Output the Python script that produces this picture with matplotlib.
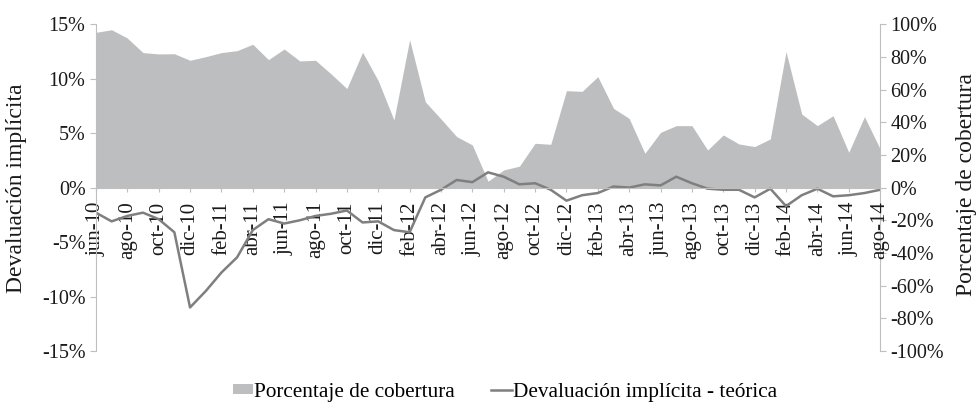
import matplotlib.pyplot as plt
import matplotlib.ticker as mticker
from matplotlib.patches import Patch
from matplotlib.lines import Line2D

plt.rcParams['font.family'] = ['Liberation Serif', 'DejaVu Serif']

# Months jun-10 .. ago-14
meses = ['ene', 'feb', 'mar', 'abr', 'may', 'jun', 'jul', 'ago', 'sep', 'oct', 'nov', 'dic']
labels = []
for year in range(10, 15):
    for m in range(12):
        if (year == 10 and m < 5) or (year == 14 and m > 7):
            continue
        labels.append(f"{meses[m]}-{year}")

# Porcentaje de cobertura (right axis, %)
cobertura = [95.0, 96.6, 91.5, 82.6, 81.8, 81.9, 77.9, 80.1, 82.6, 83.8,
             87.7, 78.3, 84.8, 77.5, 77.9, 69.5, 60.6, 82.8, 65.4, 41.4,
             90.5, 52.5, 42.0, 31.2, 26.1, 3.9, 10.8, 13.1, 27.1, 26.5,
             59.3, 58.9, 67.9, 48.5, 42.3, 21.0, 33.8, 37.9, 37.9, 23.0,
             32.2, 26.7, 25.1, 29.8, 83.2, 45.0, 37.9, 44.0, 21.6, 43.4, 23.7]

# Devaluación implícita - teórica (left axis, %)
devaluacion = [-2.3, -3.1, -2.6, -2.3, -2.9, -4.1, -11.0, -9.5, -7.8, -6.4,
               -3.9, -2.9, -3.3, -3.0, -2.6, -2.4, -2.1, -3.2, -3.1, -3.9,
               -4.1, -0.9, -0.2, 0.7, 0.5, 1.4, 1.0, 0.3, 0.4, -0.2,
               -1.2, -0.7, -0.5, 0.1, 0.0, 0.3, 0.2, 1.0, 0.4, -0.1,
               -0.2, -0.2, -0.9, -0.1, -1.7, -0.7, -0.1, -0.8, -0.7, -0.5, -0.2]

x = list(range(len(labels)))
fs = 14.5
spine_col = '#BFBFBF'
text_col = '#1a1a1a'

fig, ax = plt.subplots(figsize=(9.79, 4.03), dpi=100)
fig.subplots_adjust(left=0.098, right=0.899, top=0.940, bottom=0.129)
ax2 = ax.twinx()

# area on the right axis, line on the left axis drawn above it
ax2.fill_between(x, 0, cobertura, color='#BDBEC0', linewidth=0)
ax.plot(x, devaluacion, color='#7F7F7F', linewidth=1.8)
ax.set_zorder(ax2.get_zorder() + 1)
ax.patch.set_visible(False)

ax.set_xlim(0, len(labels) - 1)
ax.set_ylim(-15, 15)
ax2.set_ylim(-100, 100)
ax.set_yticks(range(-15, 16, 5))
ax2.set_yticks(range(-100, 101, 20))
ax.yaxis.set_major_formatter(mticker.FuncFormatter(lambda v, p: f"{v:.0f}%"))
ax2.yaxis.set_major_formatter(mticker.FuncFormatter(lambda v, p: f"{v:.0f}%"))

ax.set_xticks(x[::2])
ax.set_xticklabels(labels[::2])

for a in (ax, ax2):
    a.spines['top'].set_visible(False)
    for s in a.spines.values():
        s.set_color(spine_col)
    a.tick_params(colors=spine_col, labelcolor=text_col, labelsize=fs, length=4)
ax.spines['bottom'].set_position(('data', 0))
ax2.spines['bottom'].set_visible(False)
ax.spines['right'].set_visible(False)
ax2.spines['left'].set_visible(False)
ax.tick_params(axis='x', length=3, pad=7, labelrotation=90, labelsize=15)
for t in ax.get_xticklabels():
    t.set_va('top')
    t.set_ha('center')

# axis titles
fig.text(17 / 979, 1 - 188 / 403, 'Devaluación implícita', rotation=90,
         ha='center', va='center', fontsize=17, color=text_col)
fig.text(967 / 979, 1 - 185 / 403, 'Porcentaje de cobertura', rotation=90,
         ha='center', va='center', fontsize=17, color=text_col)

handles = [Patch(facecolor='#BDBEC0', edgecolor='none'),
           Line2D([0], [0], color='#7F7F7F', linewidth=1.8)]
fig.legend(handles, ['Porcentaje de cobertura', 'Devaluación implícita - teórica'],
           loc='center', bbox_to_anchor=(505 / 979, 11 / 403), ncol=2, frameon=False,
           fontsize=15.3, handlelength=0.95, handleheight=0.4, handletextpad=0.05,
           columnspacing=1.7, borderpad=0.2)

fig.savefig('out.png', dpi=100)
